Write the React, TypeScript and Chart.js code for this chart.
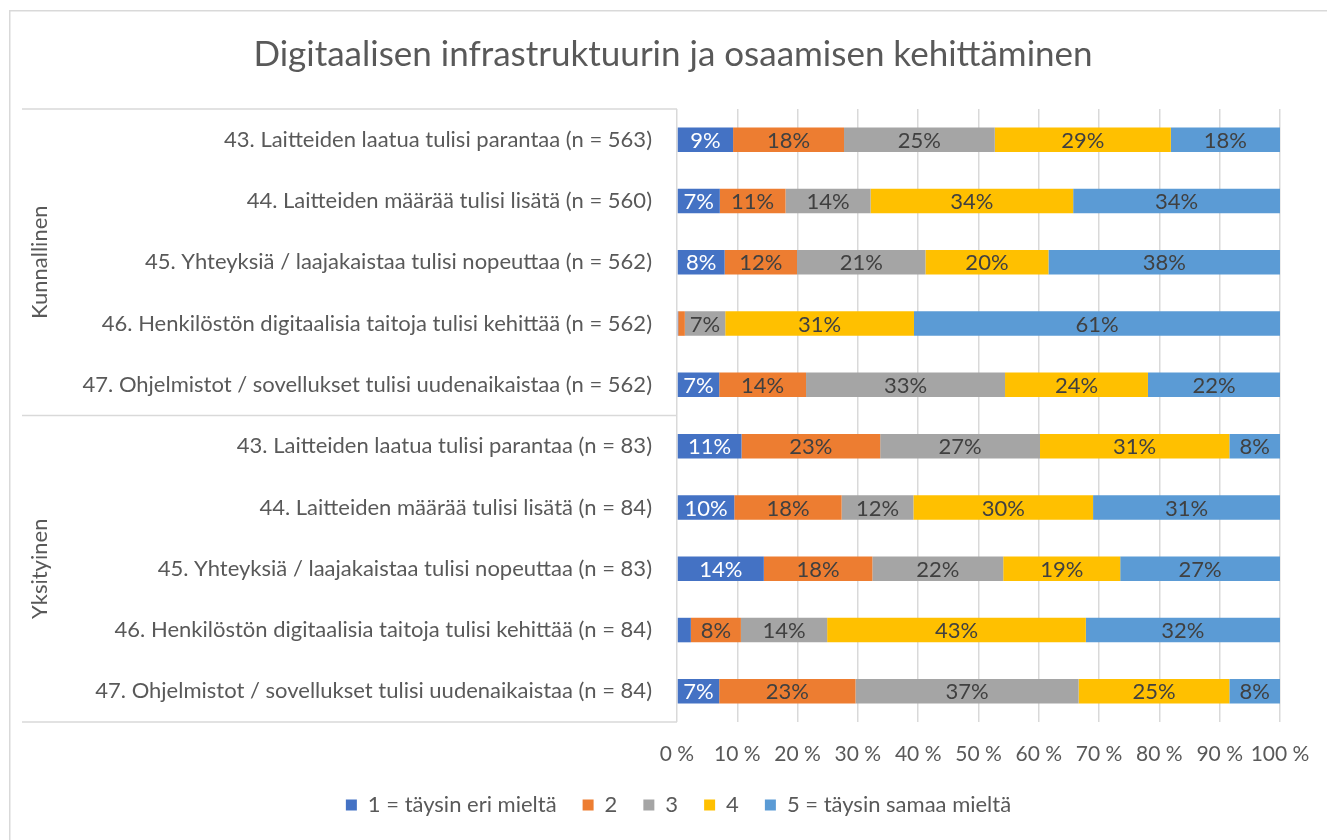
import React, { useEffect, useRef } from 'react';
import { Chart, registerables } from 'chart.js';

Chart.register(...registerables);

const TITLE = 'Digitaalisen infrastruktuurin ja osaamisen kehittäminen';
const groups = ['Kunnallinen', 'Yksityinen'];
const categories = [
  '43. Laitteiden laatua tulisi parantaa (n = 563)',
  '44. Laitteiden määrää tulisi lisätä (n = 560)',
  '45. Yhteyksiä / laajakaistaa tulisi nopeuttaa (n = 562)',
  '46. Henkilöstön digitaalisia taitoja tulisi kehittää (n = 562)',
  '47. Ohjelmistot / sovellukset tulisi uudenaikaistaa (n = 562)',
  '43. Laitteiden laatua tulisi parantaa (n = 83)',
  '44. Laitteiden määrää tulisi lisätä (n = 84)',
  '45. Yhteyksiä / laajakaistaa tulisi nopeuttaa (n = 83)',
  '46. Henkilöstön digitaalisia taitoja tulisi kehittää (n = 84)',
  '47. Ohjelmistot / sovellukset tulisi uudenaikaistaa (n = 84)',
];
const seriesNames = ['1 = täysin eri mieltä', '2', '3', '4', '5 = täysin samaa mieltä'];
const seriesColors = ['#4472C4', '#ED7D31', '#A5A5A5', '#FFC000', '#5B9BD5'];
const s1 = [9.3, 7.1, 7.9, 0.2, 7.0, 10.7, 9.5, 14.4, 2.3, 7.0];
const s2 = [18.4, 10.9, 12.0, 1.1, 14.4, 23.0, 17.8, 18.0, 8.3, 22.6];
const s3 = [25.0, 14.1, 21.3, 6.7, 33.0, 26.5, 11.9, 21.7, 14.3, 37.0];
const s4 = [29.2, 33.6, 20.4, 31.3, 23.7, 31.4, 29.8, 19.4, 42.9, 25.0];
const s5 = [18.1, 34.3, 38.4, 60.7, 21.9, 8.4, 31.0, 26.5, 32.2, 8.4];
const seriesValues = [s1, s2, s3, s4, s5];
const xMin = 0;
const xMax = 100;
const xStep = 10;

const FONT = 'Lato';
const TEXT = '#595959';
const LINE = '#d9d9d9';

const decorPlugin = {
  id: 'decor',
  afterLayout(chart: any) {
    const l = chart.legend;
    if (l) {
      l.left += 34;
      l.right += 34;
    }
  },
  beforeDraw(chart: any) {
    const ctx = chart.ctx;
    ctx.save();
    ctx.strokeStyle = LINE;
    ctx.lineWidth = 1.5;
    ctx.beginPath();
    ctx.moveTo(0.75, chart.height);
    ctx.lineTo(0.75, 0.75);
    ctx.lineTo(chart.width, 0.75);
    ctx.stroke();
    ctx.fillStyle = TEXT;
    ctx.font = `35px ${FONT}`;
    ctx.textAlign = 'center';
    ctx.textBaseline = 'middle';
    ctx.fillText(TITLE, 664, 45);
    ctx.restore();
  },
  afterDatasetsDraw(chart: any) {
    const ctx = chart.ctx;
    ctx.save();
    ctx.font = `22px ${FONT}`;
    ctx.textAlign = 'center';
    ctx.textBaseline = 'middle';
    chart.data.datasets.forEach((ds: any, di: number) => {
      const meta = chart.getDatasetMeta(di);
      meta.data.forEach((el: any, i: number) => {
        const v = ds.data[i];
        if (v < 3) return;
        ctx.fillStyle = di === 0 ? '#ffffff' : '#404040';
        ctx.fillText(Math.round(v) + '%', (el.x + el.base) / 2, el.y + 1);
      });
    });
    const y = chart.scales.y;
    const area = chart.chartArea;
    const per = categories.length / groups.length;
    const bounds: number[] = [area.top];
    for (let g = 1; g < groups.length; g++) {
      bounds.push((y.getPixelForValue(g * per - 1) + y.getPixelForValue(g * per)) / 2);
    }
    bounds.push(area.bottom);
    ctx.strokeStyle = LINE;
    ctx.lineWidth = 1.5;
    bounds.forEach((b) => {
      ctx.beginPath();
      ctx.moveTo(13, b);
      ctx.lineTo(area.left, b);
      ctx.stroke();
    });
    ctx.fillStyle = TEXT;
    ctx.font = `22px ${FONT}`;
    groups.forEach((g, gi) => {
      const cy = (bounds[gi] + bounds[gi + 1]) / 2;
      ctx.save();
      ctx.translate(31, cy);
      ctx.rotate(-Math.PI / 2);
      ctx.fillText(g, 0, 0);
      ctx.restore();
    });
    ctx.restore();
  },
};

export default function App() {
  const ref = useRef<HTMLCanvasElement | null>(null);
  useEffect(() => {
    if (!ref.current) return;
    const chart = new Chart(ref.current, {
      type: 'bar',
      data: {
        labels: categories,
        datasets: seriesValues.map((vals, i) => ({
          label: seriesNames[i],
          data: vals,
          backgroundColor: seriesColors[i],
          borderWidth: 0,
          barPercentage: 0.4,
          categoryPercentage: 1,
        })),
      },
      options: {
        indexAxis: 'y',
        animation: false,
        responsive: true,
        maintainAspectRatio: false,
        layout: { padding: { top: 99, right: 47, bottom: 14, left: 0 } },
        plugins: {
          title: { display: false },
          tooltip: { enabled: false },
          legend: {
            display: true,
            position: 'bottom',
            labels: {
              boxWidth: 11,
              boxHeight: 11,
              padding: 26,
              color: TEXT,
              font: { family: FONT, size: 22 },
            },
          },
        },
        scales: {
          x: {
            stacked: true,
            min: xMin,
            max: xMax,
            border: { display: false },
            grid: { color: LINE, lineWidth: 1.5, drawTicks: false },
            ticks: {
              stepSize: xStep,
              padding: 20,
              autoSkip: false,
              maxRotation: 0,
              minRotation: 0,
              color: TEXT,
              font: { family: FONT, size: 21 },
              callback: (v: any) => v + ' %',
            },
            afterFit: (s: any) => {
              s.height = 46;
              s.paddingLeft = 0;
              s.paddingRight = 0;
            },
          },
          y: {
            stacked: true,
            border: { display: false },
            grid: { display: false, drawTicks: false },
            ticks: {
              autoSkip: false,
              padding: 25,
              color: TEXT,
              font: { family: FONT, size: 22 },
            },
            afterFit: (s: any) => { s.width = 668; },
          },
        },
      },
      plugins: [decorPlugin],
    });
    return () => chart.destroy();
  }, []);
  return (
    <div style={{ position: 'absolute', left: 9, top: 10, width: 1318, height: 830 }}>
      <canvas ref={ref} />
    </div>
  );
}
